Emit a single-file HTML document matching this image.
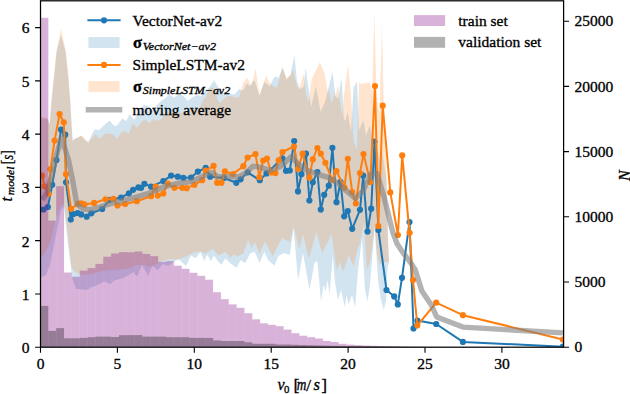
<!DOCTYPE html>
<html><head><meta charset="utf-8"><style>
html,body{margin:0;padding:0;background:#fff;width:630px;height:394px;overflow:hidden}
svg{display:block} text{stroke:#000;stroke-width:0.32px}
</style></head><body>
<svg width="630" height="394" viewBox="0 0 630 394"><rect width="630" height="394" fill="#fff"/><defs><clipPath id="ax"><rect x="40.5" y="0.5" width="523.1" height="346.7"/></clipPath></defs><g clip-path="url(#ax)"><polygon points="40.5,118.0 47.5,119.0 49.6,124.7 49.7,125.0 51.3,104.6 51.5,102.0 53.9,78.9 54.1,77.0 56.4,54.0 56.6,52.0 61.0,35.2 65.6,52.0 65.8,53.9 68.2,77.0 68.4,79.5 70.2,102.0 70.4,105.5 71.5,122.1 71.6,124.0 72.6,141.0 73.9,138.8 75.5,138.8 77.9,137.4 81.1,135.9 81.9,136.6 85.0,140.4 88.2,142.0 94.6,129.3 95.4,129.4 99.3,130.1 104.9,124.5 109.7,120.5 113.6,125.3 116.8,126.1 121.6,119.2 122.3,118.2 124.7,120.1 126.3,121.3 128.7,116.0 129.5,114.2 132.7,117.9 134.3,119.7 136.6,116.0 138.2,113.4 142.2,107.2 143.8,104.7 145.4,105.2 148.5,106.3 149.3,107.1 152.5,110.2 153.3,109.3 156.5,105.5 157.3,104.7 161.2,100.7 164.8,98.5 165.0,98.3 166.3,97.2 169.5,94.5 171.1,95.6 174.3,97.7 179.0,93.7 183.8,96.4 184.6,96.9 187.8,100.9 191.7,97.7 196.5,95.3 199.7,95.8 201.3,96.1 202.9,94.0 206.0,89.8 209.2,87.4 212.4,82.7 214.0,80.3 214.8,81.6 217.1,85.3 217.9,86.6 219.5,89.8 221.1,93.0 222.7,92.7 225.1,92.2 227.5,93.0 229.8,93.7 231.4,94.0 234.6,94.5 235.4,93.6 239.4,89.0 243.3,90.6 246.5,83.4 247.3,84.0 249.7,85.8 251.3,85.0 252.4,81.3 252.5,80.9 254.8,81.3 255.6,83.7 259.5,95.6 264.3,82.1 265.9,83.2 269.8,86.0 273.0,79.2 275.4,76.5 277.0,77.3 278.6,78.1 282.5,67.8 286.5,79.7 290.5,74.9 292.9,62.7 294.4,55.1 296.8,79.7 299.2,87.6 300.0,89.5 302.4,87.6 304.0,86.3 305.6,67.8 307.9,83.7 308.7,89.2 311.1,107.0 313.5,96.7 315.9,86.3 319.8,107.4 320.6,111.7 324.6,102.4 325.4,100.6 327.8,90.8 328.6,87.5 331.7,75.0 332.5,71.7 334.9,92.7 335.7,97.1 337.3,97.4 338.1,99.0 341.3,78.7 342.1,84.8 343.7,118.2 345.2,121.3 347.6,111.7 348.1,114.7 350.8,130.8 351.0,131.5 353.5,88.0 354.0,87.0 356.5,82.0 357.0,82.2 359.0,130.0 362.0,123.3 363.5,120.0 366.0,135.0 369.8,125.5 370.0,125.0 372.2,140.0 374.3,150.0 376.6,145.0 379.5,160.0 381.9,150.0 384.3,165.0 386.5,180.0 388.0,240.0 389.0,262.0 389.0,262.0 387.5,268.0 386.0,300.0 383.8,310.0 383.0,307.1 381.0,300.0 380.0,293.3 378.0,280.0 377.0,263.9 374.7,227.0 370.0,285.0 367.6,301.4 367.0,298.8 365.0,290.0 364.0,272.7 362.0,238.0 360.0,254.0 358.0,270.0 357.4,278.0 355.2,307.1 353.6,301.1 352.0,295.0 348.8,303.8 348.6,304.3 346.5,295.0 344.8,307.1 343.1,299.5 341.0,290.0 340.0,293.3 338.0,300.0 337.0,294.0 335.0,282.0 334.5,276.1 332.8,256.0 331.7,268.9 329.5,294.8 327.5,280.0 325.7,291.0 323.5,285.0 322.1,294.2 321.0,301.4 317.4,260.7 316.4,261.4 314.5,262.6 309.5,290.0 308.8,286.0 303.1,253.6 303.0,253.0 299.3,273.0 298.0,280.0 293.6,228.3 289.8,255.0 284.0,253.0 282.1,254.0 278.3,256.0 274.5,265.5 272.6,263.9 268.1,260.0 265.0,253.2 264.3,251.7 259.5,263.1 254.8,251.7 251.9,252.8 250.0,253.6 248.1,257.4 245.2,263.1 243.3,261.9 240.5,260.2 237.6,266.1 236.7,267.9 233.8,265.8 230.0,263.1 225.2,258.3 221.4,265.0 218.6,262.1 213.8,255.5 212.9,257.3 211.0,261.2 207.1,254.5 205.2,259.0 204.3,261.2 200.5,251.7 199.5,253.1 195.7,258.3 193.8,257.2 191.0,255.5 188.1,261.8 186.2,266.0 178.6,259.3 174.8,261.2 169.0,265.3 168.0,266.0 163.0,264.0 160.0,267.6 158.0,270.0 152.3,266.0 148.0,276.0 145.0,270.0 144.7,269.5 141.8,265.2 137.0,276.7 133.2,271.9 129.4,274.8 121.8,278.6 120.0,279.1 114.2,280.5 112.0,282.7 110.4,284.3 104.7,281.4 102.8,282.3 95.1,286.2 95.0,286.2 91.3,287.1 87.5,290.0 87.0,290.0 79.0,289.3 76.1,289.0 75.0,285.9 72.5,279.0 71.5,271.4 68.0,245.0 64.0,207.0 61.0,210.0 58.0,225.0 56.0,235.0 54.0,245.0 52.0,255.0 50.0,265.0 48.3,269.2 46.0,275.0 44.0,275.9 40.5,277.5" fill="#1f77b4" fill-opacity="0.2"/><polygon points="40.5,117.0 47.5,118.0 49.6,124.0 49.7,122.6 51.3,101.0 51.5,99.1 53.9,75.8 54.1,73.8 56.4,50.4 56.6,49.5 61.0,29.0 65.6,49.5 65.8,50.4 68.2,73.8 68.4,75.8 70.2,98.5 70.4,101.0 71.5,125.0 71.6,126.5 72.6,141.0 73.9,140.0 75.5,138.2 77.9,137.2 81.1,135.9 81.9,135.6 85.0,138.8 88.2,142.8 94.6,135.0 95.4,134.0 99.3,138.8 104.9,134.0 109.7,133.2 113.6,134.8 116.8,138.8 121.6,132.4 122.3,132.1 124.7,130.9 126.3,132.1 128.7,134.0 129.5,131.8 132.7,122.9 134.3,124.9 136.6,127.7 138.2,125.9 142.2,121.3 143.8,120.5 145.4,119.7 148.5,122.2 149.3,122.9 152.5,119.8 153.3,119.0 156.5,120.6 157.3,121.0 161.2,119.0 164.8,114.3 165.0,114.0 166.3,111.2 169.5,112.3 171.1,112.8 174.3,112.8 179.0,112.8 183.8,112.8 184.6,112.5 187.8,111.2 191.7,109.6 196.5,108.6 199.7,108.0 201.3,104.0 202.9,100.1 206.0,96.9 209.2,88.2 212.4,87.4 214.0,88.5 214.8,89.0 217.1,98.5 217.9,100.1 219.5,103.3 221.1,101.7 222.7,100.1 225.1,98.1 227.5,96.1 229.8,96.1 231.4,96.1 234.6,97.4 235.4,97.7 239.4,96.9 243.3,82.6 246.5,78.8 247.3,77.9 249.7,82.2 251.3,85.0 252.4,82.6 252.5,82.5 254.8,71.8 255.6,68.6 259.5,95.6 264.3,80.7 265.9,75.7 269.8,82.9 273.0,86.0 275.4,87.0 277.0,87.6 278.6,81.8 282.5,67.0 286.5,78.1 290.5,74.9 292.9,69.4 294.4,75.8 296.8,86.0 299.2,88.6 300.0,85.2 302.4,78.1 304.0,72.9 305.6,92.2 307.9,100.6 308.7,102.2 311.1,82.0 313.5,74.9 315.9,70.1 319.8,62.2 320.6,64.1 324.6,73.3 325.4,77.7 327.8,92.3 328.6,89.5 331.7,103.8 332.5,101.0 334.9,90.7 335.7,97.1 337.3,87.6 338.1,85.8 341.3,111.7 342.1,114.9 343.7,97.1 345.2,86.1 347.6,68.4 348.1,64.7 350.8,92.9 351.0,95.0 353.5,140.2 354.0,142.0 356.5,148.7 357.0,150.0 359.0,82.9 362.0,84.0 363.5,83.6 366.0,83.0 369.8,82.4 370.0,83.2 372.2,92.0 374.3,11.4 376.6,95.0 379.5,115.0 381.9,24.1 384.3,125.0 386.5,175.0 388.0,240.0 389.0,262.0 389.0,262.0 387.5,262.0 386.0,262.0 383.8,262.0 383.0,262.0 381.0,264.0 380.0,265.0 378.0,258.3 377.0,255.0 374.7,226.8 370.0,262.0 367.6,268.4 367.0,270.0 365.0,238.4 364.0,222.6 362.0,233.3 360.0,244.0 358.0,248.1 357.4,249.3 355.2,259.2 353.6,266.4 352.0,262.6 348.8,255.0 348.6,255.6 346.5,261.5 344.8,266.4 343.1,271.2 341.0,265.0 340.0,262.0 338.0,267.3 337.0,270.0 335.0,258.8 334.5,256.0 332.8,242.6 331.7,234.0 329.5,238.4 327.5,242.4 325.7,245.9 323.5,250.3 322.1,253.1 321.0,249.0 317.4,235.8 316.4,232.1 314.5,238.8 309.5,256.3 308.8,258.8 303.1,234.0 303.0,234.4 299.3,249.3 298.0,244.1 293.6,226.4 289.8,242.6 284.0,239.1 282.1,237.9 278.3,245.1 274.5,252.4 272.6,256.0 268.1,247.5 265.0,241.7 264.3,243.1 259.5,253.6 254.8,242.1 251.9,247.9 250.0,244.1 248.1,240.2 245.2,248.3 243.3,253.6 240.5,255.0 237.6,256.4 236.7,255.9 233.8,254.5 230.0,257.4 225.2,251.7 221.4,253.9 218.6,255.5 213.8,249.9 212.9,248.8 211.0,250.0 207.1,252.4 205.2,253.6 204.3,253.3 200.5,251.7 199.5,251.7 195.7,252.3 193.8,252.6 191.0,254.0 188.1,255.5 186.2,256.4 178.6,259.3 174.8,259.8 169.0,259.3 168.0,259.6 163.0,261.1 160.0,262.0 158.0,263.6 152.3,266.0 148.0,266.3 145.0,265.1 144.7,265.0 141.8,265.0 137.0,265.0 133.2,266.8 129.4,268.5 121.8,269.3 120.0,269.5 114.2,269.9 112.0,270.0 110.4,270.2 104.7,270.8 102.8,271.0 95.1,273.0 95.0,273.0 91.3,273.9 87.5,274.9 87.0,275.0 79.0,274.0 76.1,272.6 75.0,272.0 72.5,269.1 71.5,268.0 68.0,235.0 64.0,204.0 61.0,206.0 58.0,212.0 56.0,218.0 54.0,227.0 52.0,236.0 50.0,241.9 48.3,247.0 46.0,251.0 44.0,254.5 40.5,257.0" fill="#ff7f0e" fill-opacity="0.2"/><polyline points="43.5,209.5 47.9,207.0 52.2,184.8 56.5,160.0 61.1,129.7 65.2,134.7 66.0,182.3 70.8,219.5 73.4,214.0 77.6,213.0 81.1,214.4 86.7,216.7 91.3,213.3 102.2,209.0 109.4,200.0 121.1,197.5 128.9,193.3 133.1,189.8 138.4,187.4 141.1,187.8 144.4,183.8 151.1,186.7 163.3,181.1 171.1,175.6 177.8,176.7 183.3,177.8 191.1,177.5 197.9,171.6 205.7,167.9 210.1,176.7 224.0,178.0 236.3,182.8 240.6,179.3 247.6,172.3 259.8,180.2 266.5,173.4 282.4,158.3 286.0,170.8 289.8,170.5 294.2,141.0 298.0,191.4 301.4,174.2 306.0,153.7 309.4,200.5 312.8,182.2 317.4,172.0 320.8,209.6 324.2,194.8 328.8,185.7 332.4,147.8 336.5,202.2 340.5,182.0 344.2,216.3 347.8,211.0 352.2,228.8 360.0,209.8 363.2,175.5 367.5,231.6 371.2,208.7 374.5,141.5 378.4,230.0 386.5,290.0 394.2,296.4 397.8,304.4 402.0,277.8 409.5,222.0 413.5,328.5 417.5,320.5 436.2,324.0 462.9,341.9 562.9,346.7" fill="none" stroke="#1f77b4" stroke-width="2.0" stroke-linejoin="round"/><g fill="#1f77b4"><circle cx="43.5" cy="209.5" r="3.1"/><circle cx="47.9" cy="207.0" r="3.1"/><circle cx="52.2" cy="184.8" r="3.1"/><circle cx="56.5" cy="160.0" r="3.1"/><circle cx="61.1" cy="129.7" r="3.1"/><circle cx="65.2" cy="134.7" r="3.1"/><circle cx="66.0" cy="182.3" r="3.1"/><circle cx="70.8" cy="219.5" r="3.1"/><circle cx="73.4" cy="214.0" r="3.1"/><circle cx="77.6" cy="213.0" r="3.1"/><circle cx="81.1" cy="214.4" r="3.1"/><circle cx="86.7" cy="216.7" r="3.1"/><circle cx="91.3" cy="213.3" r="3.1"/><circle cx="102.2" cy="209.0" r="3.1"/><circle cx="109.4" cy="200.0" r="3.1"/><circle cx="121.1" cy="197.5" r="3.1"/><circle cx="128.9" cy="193.3" r="3.1"/><circle cx="133.1" cy="189.8" r="3.1"/><circle cx="138.4" cy="187.4" r="3.1"/><circle cx="141.1" cy="187.8" r="3.1"/><circle cx="144.4" cy="183.8" r="3.1"/><circle cx="151.1" cy="186.7" r="3.1"/><circle cx="163.3" cy="181.1" r="3.1"/><circle cx="171.1" cy="175.6" r="3.1"/><circle cx="177.8" cy="176.7" r="3.1"/><circle cx="183.3" cy="177.8" r="3.1"/><circle cx="191.1" cy="177.5" r="3.1"/><circle cx="197.9" cy="171.6" r="3.1"/><circle cx="205.7" cy="167.9" r="3.1"/><circle cx="210.1" cy="176.7" r="3.1"/><circle cx="224.0" cy="178.0" r="3.1"/><circle cx="236.3" cy="182.8" r="3.1"/><circle cx="240.6" cy="179.3" r="3.1"/><circle cx="247.6" cy="172.3" r="3.1"/><circle cx="259.8" cy="180.2" r="3.1"/><circle cx="266.5" cy="173.4" r="3.1"/><circle cx="282.4" cy="158.3" r="3.1"/><circle cx="286.0" cy="170.8" r="3.1"/><circle cx="289.8" cy="170.5" r="3.1"/><circle cx="294.2" cy="141.0" r="3.1"/><circle cx="298.0" cy="191.4" r="3.1"/><circle cx="301.4" cy="174.2" r="3.1"/><circle cx="306.0" cy="153.7" r="3.1"/><circle cx="309.4" cy="200.5" r="3.1"/><circle cx="312.8" cy="182.2" r="3.1"/><circle cx="317.4" cy="172.0" r="3.1"/><circle cx="320.8" cy="209.6" r="3.1"/><circle cx="324.2" cy="194.8" r="3.1"/><circle cx="328.8" cy="185.7" r="3.1"/><circle cx="332.4" cy="147.8" r="3.1"/><circle cx="336.5" cy="202.2" r="3.1"/><circle cx="340.5" cy="182.0" r="3.1"/><circle cx="344.2" cy="216.3" r="3.1"/><circle cx="347.8" cy="211.0" r="3.1"/><circle cx="352.2" cy="228.8" r="3.1"/><circle cx="360.0" cy="209.8" r="3.1"/><circle cx="363.2" cy="175.5" r="3.1"/><circle cx="367.5" cy="231.6" r="3.1"/><circle cx="371.2" cy="208.7" r="3.1"/><circle cx="374.5" cy="141.5" r="3.1"/><circle cx="378.4" cy="230.0" r="3.1"/><circle cx="386.5" cy="290.0" r="3.1"/><circle cx="394.2" cy="296.4" r="3.1"/><circle cx="397.8" cy="304.4" r="3.1"/><circle cx="402.0" cy="277.8" r="3.1"/><circle cx="409.5" cy="222.0" r="3.1"/><circle cx="413.5" cy="328.5" r="3.1"/><circle cx="417.5" cy="320.5" r="3.1"/><circle cx="436.2" cy="324.0" r="3.1"/><circle cx="462.9" cy="341.9" r="3.1"/><circle cx="562.9" cy="346.7" r="3.1"/></g><polyline points="42.1,175.7 44.6,186.4 48.7,193.8 50.4,169.1 54.6,140.6 59.6,114.0 63.8,122.3 66.0,174.2 71.1,208.8 78.4,203.7 81.1,203.3 84.4,204.4 94.2,202.9 105.5,199.3 113.4,198.9 117.5,205.5 125.2,204.0 136.8,201.2 151.1,196.2 155.6,186.7 157.8,195.6 163.3,193.5 167.8,183.5 174.4,187.8 182.2,187.8 186.7,188.2 194.4,184.8 202.2,180.2 205.7,170.6 213.6,165.8 217.1,182.8 221.4,182.8 224.9,171.4 232.8,174.0 243.3,166.2 247.6,157.5 255.5,154.1 259.4,177.2 263.2,160.5 267.0,158.6 271.3,172.4 275.4,173.1 278.7,160.3 282.5,152.0 294.0,146.5 298.0,169.0 302.6,153.7 309.4,177.7 312.8,159.4 317.4,148.0 320.8,153.7 325.4,162.8 332.2,180.0 336.4,171.1 344.5,187.5 347.8,158.8 352.2,192.0 355.9,203.5 360.0,173.0 363.5,154.0 370.3,182.0 375.0,86.0 378.4,226.0 382.7,105.7 390.3,192.4 397.9,235.0 402.2,155.4 409.6,232.8 413.0,280.0 417.3,325.5 436.2,302.6 462.9,315.2 562.9,339.5" fill="none" stroke="#ff7f0e" stroke-width="2.0" stroke-linejoin="round"/><g fill="#ff7f0e"><circle cx="42.1" cy="175.7" r="3.1"/><circle cx="44.6" cy="186.4" r="3.1"/><circle cx="48.7" cy="193.8" r="3.1"/><circle cx="50.4" cy="169.1" r="3.1"/><circle cx="54.6" cy="140.6" r="3.1"/><circle cx="59.6" cy="114.0" r="3.1"/><circle cx="63.8" cy="122.3" r="3.1"/><circle cx="66.0" cy="174.2" r="3.1"/><circle cx="71.1" cy="208.8" r="3.1"/><circle cx="78.4" cy="203.7" r="3.1"/><circle cx="81.1" cy="203.3" r="3.1"/><circle cx="84.4" cy="204.4" r="3.1"/><circle cx="94.2" cy="202.9" r="3.1"/><circle cx="105.5" cy="199.3" r="3.1"/><circle cx="113.4" cy="198.9" r="3.1"/><circle cx="117.5" cy="205.5" r="3.1"/><circle cx="125.2" cy="204.0" r="3.1"/><circle cx="136.8" cy="201.2" r="3.1"/><circle cx="151.1" cy="196.2" r="3.1"/><circle cx="155.6" cy="186.7" r="3.1"/><circle cx="157.8" cy="195.6" r="3.1"/><circle cx="163.3" cy="193.5" r="3.1"/><circle cx="167.8" cy="183.5" r="3.1"/><circle cx="174.4" cy="187.8" r="3.1"/><circle cx="182.2" cy="187.8" r="3.1"/><circle cx="186.7" cy="188.2" r="3.1"/><circle cx="194.4" cy="184.8" r="3.1"/><circle cx="202.2" cy="180.2" r="3.1"/><circle cx="205.7" cy="170.6" r="3.1"/><circle cx="213.6" cy="165.8" r="3.1"/><circle cx="217.1" cy="182.8" r="3.1"/><circle cx="221.4" cy="182.8" r="3.1"/><circle cx="224.9" cy="171.4" r="3.1"/><circle cx="232.8" cy="174.0" r="3.1"/><circle cx="243.3" cy="166.2" r="3.1"/><circle cx="247.6" cy="157.5" r="3.1"/><circle cx="255.5" cy="154.1" r="3.1"/><circle cx="259.4" cy="177.2" r="3.1"/><circle cx="263.2" cy="160.5" r="3.1"/><circle cx="267.0" cy="158.6" r="3.1"/><circle cx="271.3" cy="172.4" r="3.1"/><circle cx="275.4" cy="173.1" r="3.1"/><circle cx="278.7" cy="160.3" r="3.1"/><circle cx="282.5" cy="152.0" r="3.1"/><circle cx="294.0" cy="146.5" r="3.1"/><circle cx="298.0" cy="169.0" r="3.1"/><circle cx="302.6" cy="153.7" r="3.1"/><circle cx="309.4" cy="177.7" r="3.1"/><circle cx="312.8" cy="159.4" r="3.1"/><circle cx="317.4" cy="148.0" r="3.1"/><circle cx="320.8" cy="153.7" r="3.1"/><circle cx="325.4" cy="162.8" r="3.1"/><circle cx="332.2" cy="180.0" r="3.1"/><circle cx="336.4" cy="171.1" r="3.1"/><circle cx="344.5" cy="187.5" r="3.1"/><circle cx="347.8" cy="158.8" r="3.1"/><circle cx="352.2" cy="192.0" r="3.1"/><circle cx="355.9" cy="203.5" r="3.1"/><circle cx="360.0" cy="173.0" r="3.1"/><circle cx="363.5" cy="154.0" r="3.1"/><circle cx="370.3" cy="182.0" r="3.1"/><circle cx="375.0" cy="86.0" r="3.1"/><circle cx="378.4" cy="226.0" r="3.1"/><circle cx="382.7" cy="105.7" r="3.1"/><circle cx="390.3" cy="192.4" r="3.1"/><circle cx="397.9" cy="235.0" r="3.1"/><circle cx="402.2" cy="155.4" r="3.1"/><circle cx="409.6" cy="232.8" r="3.1"/><circle cx="413.0" cy="280.0" r="3.1"/><circle cx="417.3" cy="325.5" r="3.1"/><circle cx="436.2" cy="302.6" r="3.1"/><circle cx="462.9" cy="315.2" r="3.1"/><circle cx="562.9" cy="339.5" r="3.1"/></g><polyline points="42.5,200.0 47.0,192.0 52.0,175.0 55.3,160.0 61.1,138.5 64.4,147.0 68.5,160.0 72.6,180.0 76.8,204.0 83.1,209.0 88.9,209.6 95.0,208.8 104.4,205.5 115.6,202.2 123.1,200.5 133.3,197.8 148.9,193.3 164.4,186.7 180.0,182.9 190.0,181.9 200.5,177.5 211.0,172.3 218.0,176.7 228.4,176.7 238.9,176.7 245.9,173.2 252.9,166.2 259.8,167.1 270.3,170.6 280.8,166.2 291.3,156.6 298.3,164.4 306.0,169.7 317.4,174.2 328.8,177.7 338.0,183.4 347.8,192.0 355.4,198.4 363.0,190.8 370.6,174.3 377.0,173.5 384.6,199.1 388.7,215.9 392.9,232.6 397.1,243.8 402.7,252.2 411.1,263.4 415.3,270.0 421.9,291.1 431.6,305.6 436.7,316.9 462.9,327.1 562.9,332.9" fill="none" stroke="#808080" stroke-opacity="0.6" stroke-width="5.4" stroke-linejoin="round"/><rect x="40.50" y="17.80" width="7.844" height="329.40" fill="#800080" fill-opacity="0.3"/><rect x="48.34" y="220.60" width="7.844" height="126.60" fill="#800080" fill-opacity="0.3"/><rect x="56.19" y="186.20" width="7.844" height="161.00" fill="#800080" fill-opacity="0.3"/><rect x="64.03" y="272.50" width="7.844" height="74.70" fill="#800080" fill-opacity="0.3"/><rect x="71.88" y="276.70" width="7.844" height="70.50" fill="#800080" fill-opacity="0.3"/><rect x="79.72" y="270.60" width="7.844" height="76.60" fill="#800080" fill-opacity="0.3"/><rect x="87.56" y="268.10" width="7.844" height="79.10" fill="#800080" fill-opacity="0.3"/><rect x="95.41" y="263.90" width="7.844" height="83.30" fill="#800080" fill-opacity="0.3"/><rect x="103.25" y="256.70" width="7.844" height="90.50" fill="#800080" fill-opacity="0.3"/><rect x="111.10" y="253.50" width="7.844" height="93.70" fill="#800080" fill-opacity="0.3"/><rect x="118.94" y="252.10" width="7.844" height="95.10" fill="#800080" fill-opacity="0.3"/><rect x="126.78" y="252.30" width="7.844" height="94.90" fill="#800080" fill-opacity="0.3"/><rect x="134.63" y="251.50" width="7.844" height="95.70" fill="#800080" fill-opacity="0.3"/><rect x="142.47" y="253.90" width="7.844" height="93.30" fill="#800080" fill-opacity="0.3"/><rect x="150.32" y="256.20" width="7.844" height="91.00" fill="#800080" fill-opacity="0.3"/><rect x="158.16" y="261.90" width="7.844" height="85.30" fill="#800080" fill-opacity="0.3"/><rect x="166.00" y="261.10" width="7.844" height="86.10" fill="#800080" fill-opacity="0.3"/><rect x="173.85" y="265.70" width="7.844" height="81.50" fill="#800080" fill-opacity="0.3"/><rect x="181.69" y="268.80" width="7.844" height="78.40" fill="#800080" fill-opacity="0.3"/><rect x="189.54" y="272.80" width="7.844" height="74.40" fill="#800080" fill-opacity="0.3"/><rect x="197.38" y="275.80" width="7.844" height="71.40" fill="#800080" fill-opacity="0.3"/><rect x="205.22" y="279.70" width="7.844" height="67.50" fill="#800080" fill-opacity="0.3"/><rect x="213.07" y="292.20" width="7.844" height="55.00" fill="#800080" fill-opacity="0.3"/><rect x="220.91" y="299.10" width="7.844" height="48.10" fill="#800080" fill-opacity="0.3"/><rect x="228.76" y="304.40" width="7.844" height="42.80" fill="#800080" fill-opacity="0.3"/><rect x="236.60" y="307.80" width="7.844" height="39.40" fill="#800080" fill-opacity="0.3"/><rect x="244.44" y="313.20" width="7.844" height="34.00" fill="#800080" fill-opacity="0.3"/><rect x="252.29" y="319.30" width="7.844" height="27.90" fill="#800080" fill-opacity="0.3"/><rect x="260.13" y="323.30" width="7.844" height="23.90" fill="#800080" fill-opacity="0.3"/><rect x="267.98" y="324.80" width="7.844" height="22.40" fill="#800080" fill-opacity="0.3"/><rect x="275.82" y="326.20" width="7.844" height="21.00" fill="#800080" fill-opacity="0.3"/><rect x="283.66" y="329.60" width="7.844" height="17.60" fill="#800080" fill-opacity="0.3"/><rect x="291.51" y="333.20" width="7.844" height="14.00" fill="#800080" fill-opacity="0.3"/><rect x="299.35" y="335.70" width="7.844" height="11.50" fill="#800080" fill-opacity="0.3"/><rect x="307.20" y="337.20" width="7.844" height="10.00" fill="#800080" fill-opacity="0.3"/><rect x="315.04" y="338.50" width="7.844" height="8.70" fill="#800080" fill-opacity="0.3"/><rect x="322.88" y="341.00" width="7.844" height="6.20" fill="#800080" fill-opacity="0.3"/><rect x="330.73" y="342.00" width="7.844" height="5.20" fill="#800080" fill-opacity="0.3"/><rect x="338.57" y="343.80" width="7.844" height="3.40" fill="#800080" fill-opacity="0.3"/><rect x="346.42" y="344.60" width="7.844" height="2.60" fill="#800080" fill-opacity="0.3"/><rect x="354.26" y="345.10" width="7.844" height="2.10" fill="#800080" fill-opacity="0.3"/><rect x="362.10" y="345.50" width="7.844" height="1.70" fill="#800080" fill-opacity="0.3"/><rect x="369.95" y="345.80" width="7.844" height="1.40" fill="#800080" fill-opacity="0.3"/><rect x="377.79" y="346.00" width="7.844" height="1.20" fill="#800080" fill-opacity="0.3"/><rect x="385.64" y="346.20" width="7.844" height="1.00" fill="#800080" fill-opacity="0.3"/><rect x="393.48" y="346.40" width="7.844" height="0.80" fill="#800080" fill-opacity="0.3"/><rect x="401.32" y="346.60" width="7.844" height="0.60" fill="#800080" fill-opacity="0.3"/><rect x="409.17" y="346.70" width="7.844" height="0.50" fill="#800080" fill-opacity="0.3"/><rect x="417.01" y="346.80" width="7.844" height="0.40" fill="#800080" fill-opacity="0.3"/><rect x="424.86" y="346.90" width="7.844" height="0.30" fill="#800080" fill-opacity="0.3"/><rect x="40.50" y="305.90" width="7.844" height="41.30" fill="#000" fill-opacity="0.3"/><rect x="48.34" y="330.90" width="7.844" height="16.30" fill="#000" fill-opacity="0.3"/><rect x="56.19" y="328.10" width="7.844" height="19.10" fill="#000" fill-opacity="0.3"/><rect x="64.03" y="338.30" width="7.844" height="8.90" fill="#000" fill-opacity="0.3"/><rect x="71.88" y="338.30" width="7.844" height="8.90" fill="#000" fill-opacity="0.3"/><rect x="79.72" y="337.90" width="7.844" height="9.30" fill="#000" fill-opacity="0.3"/><rect x="87.56" y="337.20" width="7.844" height="10.00" fill="#000" fill-opacity="0.3"/><rect x="95.41" y="336.60" width="7.844" height="10.60" fill="#000" fill-opacity="0.3"/><rect x="103.25" y="336.60" width="7.844" height="10.60" fill="#000" fill-opacity="0.3"/><rect x="111.10" y="337.00" width="7.844" height="10.20" fill="#000" fill-opacity="0.3"/><rect x="118.94" y="335.20" width="7.844" height="12.00" fill="#000" fill-opacity="0.3"/><rect x="126.78" y="335.10" width="7.844" height="12.10" fill="#000" fill-opacity="0.3"/><rect x="134.63" y="335.10" width="7.844" height="12.10" fill="#000" fill-opacity="0.3"/><rect x="142.47" y="336.60" width="7.844" height="10.60" fill="#000" fill-opacity="0.3"/><rect x="150.32" y="336.60" width="7.844" height="10.60" fill="#000" fill-opacity="0.3"/><rect x="158.16" y="336.60" width="7.844" height="10.60" fill="#000" fill-opacity="0.3"/><rect x="166.00" y="337.20" width="7.844" height="10.00" fill="#000" fill-opacity="0.3"/><rect x="173.85" y="337.20" width="7.844" height="10.00" fill="#000" fill-opacity="0.3"/><rect x="181.69" y="337.20" width="7.844" height="10.00" fill="#000" fill-opacity="0.3"/><rect x="189.54" y="337.90" width="7.844" height="9.30" fill="#000" fill-opacity="0.3"/><rect x="197.38" y="337.90" width="7.844" height="9.30" fill="#000" fill-opacity="0.3"/><rect x="205.22" y="337.90" width="7.844" height="9.30" fill="#000" fill-opacity="0.3"/><rect x="213.07" y="340.40" width="7.844" height="6.80" fill="#000" fill-opacity="0.3"/><rect x="220.91" y="341.00" width="7.844" height="6.20" fill="#000" fill-opacity="0.3"/><rect x="228.76" y="341.00" width="7.844" height="6.20" fill="#000" fill-opacity="0.3"/><rect x="236.60" y="341.00" width="7.844" height="6.20" fill="#000" fill-opacity="0.3"/><rect x="244.44" y="342.30" width="7.844" height="4.90" fill="#000" fill-opacity="0.3"/><rect x="252.29" y="343.80" width="7.844" height="3.40" fill="#000" fill-opacity="0.3"/><rect x="260.13" y="343.80" width="7.844" height="3.40" fill="#000" fill-opacity="0.3"/><rect x="267.98" y="343.80" width="7.844" height="3.40" fill="#000" fill-opacity="0.3"/><rect x="275.82" y="344.50" width="7.844" height="2.70" fill="#000" fill-opacity="0.3"/><rect x="283.66" y="344.50" width="7.844" height="2.70" fill="#000" fill-opacity="0.3"/><rect x="291.51" y="344.80" width="7.844" height="2.40" fill="#000" fill-opacity="0.3"/><rect x="299.35" y="345.00" width="7.844" height="2.20" fill="#000" fill-opacity="0.3"/><rect x="307.20" y="345.20" width="7.844" height="2.00" fill="#000" fill-opacity="0.3"/><rect x="315.04" y="345.40" width="7.844" height="1.80" fill="#000" fill-opacity="0.3"/><rect x="322.88" y="345.60" width="7.844" height="1.60" fill="#000" fill-opacity="0.3"/><rect x="330.73" y="345.80" width="7.844" height="1.40" fill="#000" fill-opacity="0.3"/><rect x="338.57" y="346.00" width="7.844" height="1.20" fill="#000" fill-opacity="0.3"/><rect x="346.42" y="346.10" width="7.844" height="1.10" fill="#000" fill-opacity="0.3"/><rect x="354.26" y="346.20" width="7.844" height="1.00" fill="#000" fill-opacity="0.3"/><rect x="362.10" y="346.30" width="7.844" height="0.90" fill="#000" fill-opacity="0.3"/><rect x="369.95" y="346.40" width="7.844" height="0.80" fill="#000" fill-opacity="0.3"/><rect x="377.79" y="346.50" width="7.844" height="0.70" fill="#000" fill-opacity="0.3"/><rect x="385.64" y="346.60" width="7.844" height="0.60" fill="#000" fill-opacity="0.3"/><rect x="393.48" y="346.70" width="7.844" height="0.50" fill="#000" fill-opacity="0.3"/><rect x="401.32" y="346.80" width="7.844" height="0.40" fill="#000" fill-opacity="0.3"/><rect x="409.17" y="346.90" width="7.844" height="0.30" fill="#000" fill-opacity="0.3"/><rect x="417.01" y="346.90" width="7.844" height="0.30" fill="#000" fill-opacity="0.3"/><rect x="424.86" y="347.00" width="7.844" height="0.20" fill="#000" fill-opacity="0.3"/></g><g stroke="#000" stroke-width="1.25" fill="none" stroke-linecap="square"><rect x="40.5" y="0.8" width="523.1" height="346.4"/></g><path d="M40.50,347.2v5.6M117.40,347.2v5.6M194.30,347.2v5.6M271.20,347.2v5.6M348.10,347.2v5.6M425.00,347.2v5.6M501.90,347.2v5.6M40.5,347.20h-5.4M40.5,293.93h-5.4M40.5,240.66h-5.4M40.5,187.39h-5.4M40.5,134.12h-5.4M40.5,80.85h-5.4M40.5,27.58h-5.4M563.6,347.20h5.4M563.6,282.00h5.4M563.6,216.80h5.4M563.6,151.60h5.4M563.6,86.40h5.4M563.6,21.20h5.4" stroke="#000" stroke-width="1.1"/><g font-family="Liberation Serif" font-size="15.5" fill="#000"><text x="40.50" y="369" text-anchor="middle">0</text><text x="117.40" y="369" text-anchor="middle">5</text><text x="194.30" y="369" text-anchor="middle">10</text><text x="271.20" y="369" text-anchor="middle">15</text><text x="348.10" y="369" text-anchor="middle">20</text><text x="425.00" y="369" text-anchor="middle">25</text><text x="501.90" y="369" text-anchor="middle">30</text><text x="29.6" y="353.10" text-anchor="end">0</text><text x="29.6" y="299.83" text-anchor="end">1</text><text x="29.6" y="246.56" text-anchor="end">2</text><text x="29.6" y="193.29" text-anchor="end">3</text><text x="29.6" y="140.02" text-anchor="end">4</text><text x="29.6" y="86.75" text-anchor="end">5</text><text x="29.6" y="33.48" text-anchor="end">6</text><text x="574.5" y="352.40">0</text><text x="574.5" y="287.20">5000</text><text x="574.5" y="222.00">10000</text><text x="574.5" y="156.80">15000</text><text x="574.5" y="91.60">20000</text><text x="574.5" y="26.40">25000</text></g><g font-family="Liberation Serif" fill="#000" font-size="15.5">
<text x="277.6" y="390.1" font-style="italic" font-size="16">v</text>
<text x="284.0" y="392.6" font-size="10.8">0</text>
<text x="293.6" y="390.6" font-size="17.5">[</text>
<text x="296.8" y="390.1" font-style="italic" font-size="16" textLength="9.6" lengthAdjust="spacingAndGlyphs">m</text>
<text x="306.2" y="390.6" font-size="17.5">/</text>
<text x="313.6" y="390.1" font-style="italic" font-size="16.5">s</text>
<text x="321.2" y="390.6" font-size="17.5">]</text>
<g transform="translate(11.2,201.6) rotate(-90)">
<text x="0" y="0.6" font-style="italic" font-size="15.8">t</text>
<text x="6.4" y="2.3" font-style="italic" font-size="11" textLength="28.6" lengthAdjust="spacingAndGlyphs">model</text>
<text x="37.4" y="1.7" font-size="17.5" textLength="14" lengthAdjust="spacingAndGlyphs">[<tspan font-style="italic" font-size="16">s</tspan>]</text>
</g>
<g transform="translate(630.2,181.0) rotate(-90)"><text x="0" y="0" font-style="italic" font-size="16.2">N</text></g>
</g><line x1="88.4" y1="20.3" x2="119.6" y2="20.3" stroke="#1f77b4" stroke-width="2.0" stroke-linecap="square"/><circle cx="104" cy="20.3" r="3.1" fill="#1f77b4"/><rect x="88.4" y="37.1" width="31.2" height="10.9" fill="#1f77b4" fill-opacity="0.2"/><line x1="88.4" y1="64.9" x2="119.6" y2="64.9" stroke="#ff7f0e" stroke-width="2.0" stroke-linecap="square"/><circle cx="104" cy="64.9" r="3.1" fill="#ff7f0e"/><rect x="88.4" y="81.1" width="31.2" height="10.9" fill="#ff7f0e" fill-opacity="0.2"/><line x1="88.4" y1="109.8" x2="119.6" y2="109.8" stroke="#808080" stroke-opacity="0.6" stroke-width="5.4" stroke-linecap="square"/><g font-family="Liberation Serif" font-size="15.5" fill="#000">
<text x="132.6" y="25.7" textLength="89.6" lengthAdjust="spacingAndGlyphs">VectorNet-av2</text>
<text x="133.0" y="47.9" font-size="16.5" font-weight="bold">σ</text>
<text x="142.8" y="50.1" font-style="italic" font-size="10.4" textLength="73.2" lengthAdjust="spacingAndGlyphs">VectorNet−av2</text>
<text x="132.6" y="70.4" textLength="112.4" lengthAdjust="spacingAndGlyphs">SimpleLSTM-av2</text>
<text x="133.0" y="91.9" font-size="16.5" font-weight="bold">σ</text>
<text x="142.8" y="94.0" font-style="italic" font-size="10.4" textLength="87.4" lengthAdjust="spacingAndGlyphs">SimpleLSTM−av2</text>
<text x="132.6" y="114.5" textLength="98.4" lengthAdjust="spacingAndGlyphs">moving average</text>
</g><rect x="414" y="15.1" width="31.1" height="10.9" fill="#800080" fill-opacity="0.3"/><rect x="414" y="36.9" width="31.1" height="10.9" fill="#000" fill-opacity="0.3"/><g font-family="Liberation Serif" font-size="15.5" fill="#000">
<text x="458.3" y="25.6">train set</text>
<text x="458.3" y="47.4">validation set</text>
</g></svg>
</body></html>
